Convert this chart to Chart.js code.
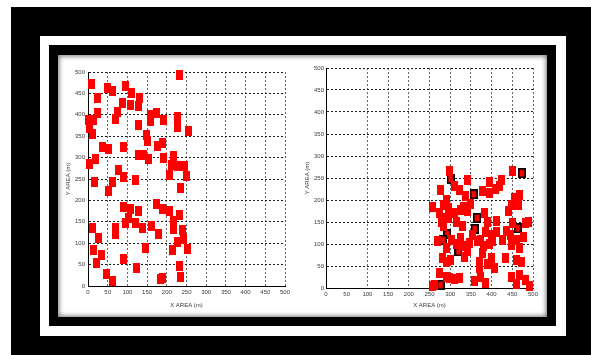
<!DOCTYPE html>
<html>
<head>
<meta charset="utf-8">
<script src="https://cdn.jsdelivr.net/npm/chart.js@4"></script>
<style>
html, body { margin: 0; padding: 0; background: #fff; }
body { width: 591px; height: 355px; position: relative; overflow: hidden; }
.box { position: absolute; }
#outer { left: 11px; top: 7px; width: 580px; height: 348px; background: #000; }
#band { left: 40px; top: 36px; width: 526px; height: 300px; background: #fff; }
#inner { left: 49px; top: 45px; width: 507px; height: 281px; background: #000; }
#panel { left: 58px; top: 55px; width: 489px; height: 262px; background: #fff;
         box-shadow: inset 0 0 5px 1px rgba(0,0,0,0.55); }
canvas { position: absolute; }
#leftChart { left: 58px; top: 58px; }
#rightChart { left: 300px; top: 58px; }
</style>
</head>
<body>
<div class="box" id="outer"></div>
<div class="box" id="band"></div>
<div class="box" id="inner"></div>
<div class="box" id="panel"></div>
<canvas id="leftChart" width="240" height="258"></canvas>
<canvas id="rightChart" width="247" height="258"></canvas>
<script>
// axis ticks (both plots, both axes)
const tickValues = [0, 50, 100, 150, 200, 250, 300, 350, 400, 450, 500];
const xTitle = "X AREA (m)";
const yTitle = "Y AREA (m)";

// left plot: nodes spread over the whole field
const leftNodes = [
    [233, 492], [8, 473], [49, 463], [62, 455], [95, 468], [110, 451], [24, 439], [131, 439],
    [87, 428], [108, 424], [129, 420], [24, 404], [74, 406], [70, 390], [1, 389], [15, 387],
    [159, 400], [173, 404], [159, 385], [191, 389], [227, 395], [227, 372], [255, 363], [127, 376],
    [4, 369], [11, 355], [148, 352], [150, 338], [38, 324], [51, 319], [91, 324], [176, 327],
    [190, 334], [127, 307], [142, 305], [153, 297], [18, 297], [4, 284], [192, 299], [217, 303],
    [212, 282], [226, 280], [245, 281], [208, 260], [249, 257], [78, 272], [91, 255], [121, 248],
    [17, 242], [62, 242], [234, 229], [53, 222],
    [91, 185], [108, 180], [129, 175], [104, 159], [121, 148], [138, 136], [95, 148], [173, 191],
    [188, 180], [207, 175], [232, 167], [216, 152], [216, 134], [240, 130], [161, 140], [180, 121],
    [70, 135], [70, 122], [11, 136], [26, 113], [146, 89], [13, 84], [35, 72], [215, 84],
    [226, 103], [252, 86], [242, 109], [21, 53], [91, 62], [122, 42], [46, 29], [63, 12],
    [183, 16], [189, 18], [231, 47], [234, 21]
];

// right plot: nodes gathered in the lower right corner
const rightNodes = [
    [299, 265], [277, 223], [311, 231], [323, 223], [341, 246], [258, 185], [283, 189], [295, 182],
    [283, 159], [324, 178], [315, 151], [341, 174], [355, 121], [270, 107], [303, 109], [326, 113],
    [347, 102], [341, 83], [281, 69], [301, 64], [275, 33], [299, 22], [323, 22], [258, 5],
    [367, 106], [371, 45], [359, 15], [451, 265], [394, 242], [420, 231], [394, 216], [378, 220],
    [467, 212], [447, 189], [465, 189], [382, 170], [411, 152], [483, 147], [451, 147], [386, 128],
    [411, 128], [427, 109], [374, 109], [403, 106], [447, 98], [467, 90], [378, 79], [399, 68],
    [433, 69], [406, 45], [374, 26], [386, 11], [447, 26], [467, 30], [483, 18], [491, 4],
    [280, 150], [489, 150], [477, 116], [473, 59], [461, 63], [332, 185], [348, 192], [291, 59],
    [263, 6], [290, 200], [275, 170], [295, 160], [285, 140], [310, 170], [330, 140], [338, 210],
    [330, 95], [290, 90], [315, 100], [335, 70], [310, 20], [290, 25], [390, 150], [395, 100],
    [380, 95], [400, 120], [370, 60], [390, 55], [455, 205], [440, 175], [445, 120], [460, 110],
    [435, 130], [460, 10], [410, 225], [425, 245]
];

// right plot: outlined nodes
const rightHeads = [
    [301, 248], [357, 213], [365, 159], [359, 134], [293, 122], [283, 109], [320, 83], [277, 7],
    [473, 261], [463, 136]
];

// little rectangle markers
function makeMark(w, h, fill, stroke) {
    const c = document.createElement("canvas");
    c.width = w;
    c.height = h;
    const g = c.getContext("2d");
    g.fillStyle = fill;
    g.fillRect(0, 0, w, h);
    if (stroke) {
        g.strokeStyle = stroke;
        g.lineWidth = 1.6;
        g.strokeRect(0.8, 0.8, w - 1.6, h - 1.6);
    }
    return c;
}
const redMark = makeMark(7, 10, "#ff0000");
const headMark = makeMark(8, 10, "#ff0000", "#000000");

const toPoints = (arr) => arr.map(([x, y]) => ({ x, y }));

const tickFont = { family: "Liberation Sans", size: 6 };

function buildScales(opts) {
    return {
        x: {
            type: "linear", min: 0, max: 500,
            afterBuildTicks: (s) => { s.ticks = tickValues.map(v => ({ value: v })); },
            afterFit: (s) => { s.height = opts.xHeight; },
            ticks: { font: tickFont, color: "#3a3a3a", padding: 3, autoSkip: false, maxRotation: 0 },
            grid: {
                color: (ctx) => (opts.hideX50 && ctx.tick && ctx.tick.value === 50) ? "rgba(0,0,0,0)" : "#666",
                drawTicks: false
            },
            border: { color: "#000", width: 1, dash: [2, 2] },
            title: { display: true, text: xTitle, font: tickFont, color: "#3a3a3a", padding: { top: 0, bottom: opts.xTitlePad } }
        },
        y: {
            type: "linear", min: 0, max: 500,
            afterBuildTicks: (s) => { s.ticks = tickValues.map(v => ({ value: v })); },
            afterFit: (s) => { s.width = opts.yWidth; },
            ticks: { font: tickFont, color: "#3a3a3a", padding: opts.yTickPad, autoSkip: false },
            grid: { color: "#1a1a1a", drawTicks: false },
            border: { color: "#000", width: 1, dash: [2, 2] },
            title: { display: true, text: yTitle, font: tickFont, color: "#3a3a3a", padding: { top: opts.yTitlePad, bottom: 0 } }
        }
    };
}

function baseOptions(opts) {
    return {
        responsive: false,
        animation: false,
        events: [],
        layout: { padding: opts.padding },
        plugins: { legend: { display: false }, tooltip: { enabled: false } },
        scales: buildScales(opts)
    };
}

new Chart(document.getElementById("leftChart"), {
    type: "scatter",
    data: {
        datasets: [{
            data: toPoints(leftNodes),
            pointStyle: redMark, pointRadius: 5, clip: false
        }]
    },
    options: baseOptions({
        padding: { top: 14, right: 13, bottom: 0, left: 0 },
        xHeight: 30, yWidth: 30, xTitlePad: 7, yTitlePad: 7, yTickPad: 3, hideX50: false
    })
});

new Chart(document.getElementById("rightChart"), {
    type: "scatter",
    data: {
        datasets: [
            { data: toPoints(rightNodes), pointStyle: redMark, pointRadius: 5, clip: false },
            { data: toPoints(rightHeads), pointStyle: headMark, pointRadius: 5, clip: false }
        ]
    },
    options: baseOptions({
        padding: { top: 10, right: 14, bottom: 0, left: 0 },
        xHeight: 28, yWidth: 26, xTitlePad: 7, yTitlePad: 4, yTickPad: 2, hideX50: true
    })
});
</script>
</body>
</html>
